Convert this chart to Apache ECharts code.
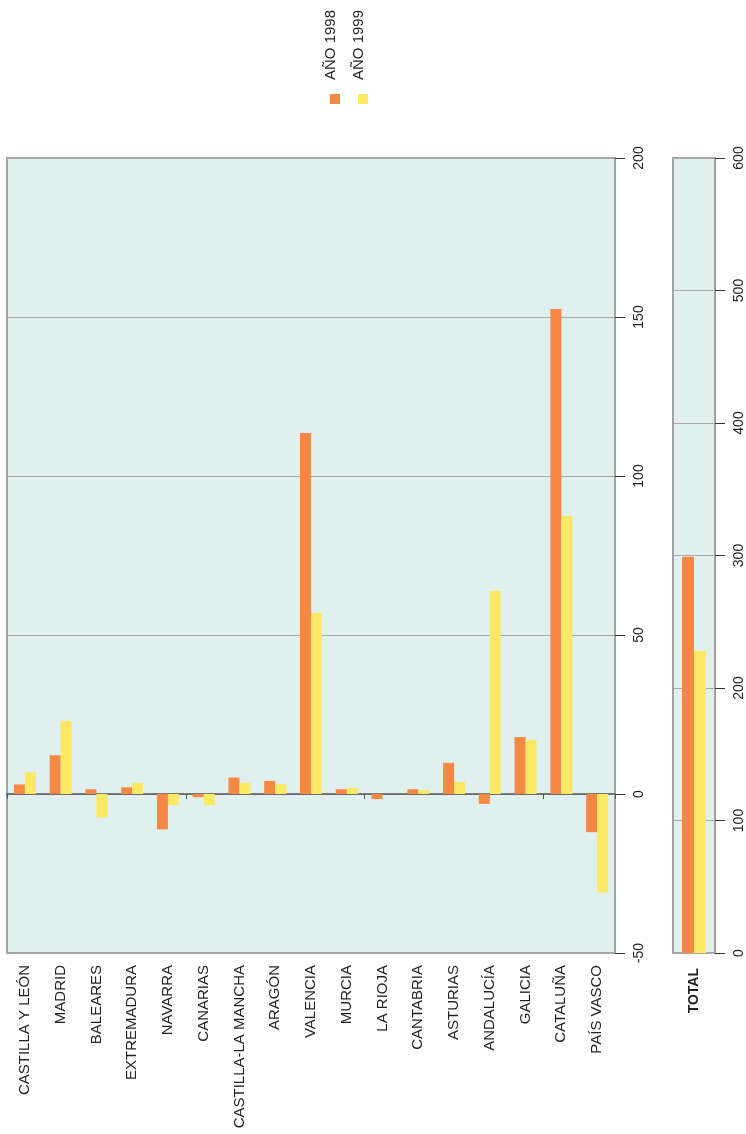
<!DOCTYPE html>
<html>
  <head>
    <meta charset="UTF-8" />
    <title>Año 1998 / Año 1999</title>
    <style>
      html, body { margin: 0; padding: 0; background: #fff; }
      #chart { width: 746px; height: 1134px; }
    </style>
    <script src="https://cdn.jsdelivr.net/npm/echarts@6/dist/echarts.min.js"></script>
  </head>
  <body>
    <div id="chart"></div>
    <script>
      const regiones = [
        "CASTILLA Y LEÓN", "MADRID", "BALEARES", "EXTREMADURA", "NAVARRA",
        "CANARIAS", "CASTILLA-LA MANCHA", "ARAGÓN", "VALENCIA", "MURCIA",
        "LA RIOJA", "CANTABRIA", "ASTURIAS", "ANDALUCÍA", "GALICIA",
        "CATALUÑA", "PAÍS VASCO"
      ];
      const ano1998 = [3, 12.2, 1.5, 2.1, -11.1, -1, 5.2, 4.1, 113.5, 1.5, -1.6, 1.5, 9.8, -3.1, 17.9, 152.5, -12];
      const ano1999 = [6.8, 23, -7.4, 3.5, -3.5, -3.5, 3.5, 3.1, 56.9, 1.9, 0, 1.3, 3.8, 63.8, 17, 87.4, -31];
      const totalCat = ["TOTAL"];
      const total1998 = [299];
      const total1999 = [228];
      const nombres = ["AÑO 1998", "AÑO 1999"];
      const colores = ["#f68843", "#fbe963"];

      const chart = echarts.init(document.getElementById("chart"));
      const font = "Liberation Sans";
      const txt = "#231f20";

      const gridBase = {
        show: true,
        backgroundColor: "#e0f0ef",
        borderColor: "#a3a3a3",
        borderWidth: 2,
        containLabel: false
      };

      const valueAxis = (grid, min, max, interval) => ({
        type: "value",
        gridIndex: grid,
        position: "right",
        min: min,
        max: max,
        interval: interval,
        axisLine: { show: false },
        axisTick: { show: true, length: 10, lineStyle: { color: "#333", width: 1 } },
        axisLabel: { rotate: 90, margin: 17, color: txt, fontFamily: font, fontSize: 14 },
        splitLine: { lineStyle: { color: "#a8a8a8", width: 1 } }
      });

      const option = {
        animation: false,
        legend: [0, 1].map((i) => ({
          data: [nombres[i]],
          left: 325 + i * 28,
          top: 89,
          itemWidth: 10,
          itemHeight: 10,
          icon: "rect",
          selectedMode: false,
          formatter: () => ""
        })),
        graphic: [0, 1].map((i) => ({
          type: "text",
          x: 331 + i * 28,
          y: 80,
          rotation: Math.PI / 2,
          style: {
            text: nombres[i],
            fill: txt,
            font: "15px " + font,
            align: "left",
            verticalAlign: "middle"
          }
        })),
        grid: [
          Object.assign({ left: 7, right: 131, top: 158, bottom: 181 }, gridBase),
          Object.assign({ left: 673, right: 31, top: 158, bottom: 181 }, gridBase)
        ],
        xAxis: [
          {
            type: "category",
            gridIndex: 0,
            position: "bottom",
            data: regiones,
            axisLine: { show: false, onZero: false },
            axisTick: { show: false },
            axisLabel: { rotate: 90, margin: 12, interval: 0, color: txt, fontFamily: font, fontSize: 15 }
          },
          {
            type: "category",
            gridIndex: 0,
            position: "bottom",
            data: regiones,
            axisLine: { show: true, onZero: true, lineStyle: { color: "#555", width: 1.5 } },
            axisTick: { show: true, length: 5, lineStyle: { color: "#555", width: 1 } },
            axisLabel: { show: false }
          },
          {
            type: "category",
            gridIndex: 1,
            position: "bottom",
            data: totalCat,
            axisLine: { show: false },
            axisTick: { show: false },
            axisLabel: { rotate: 90, margin: 15, color: txt, fontFamily: font, fontSize: 14, fontWeight: "bold" }
          }
        ],
        yAxis: [
          valueAxis(0, -50, 200, 50),
          valueAxis(1, 0, 600, 100)
        ],
        series: [
          { name: nombres[0], type: "bar", xAxisIndex: 0, yAxisIndex: 0, data: ano1998, barWidth: 11, barGap: "0%", itemStyle: { color: colores[0] } },
          { name: nombres[1], type: "bar", xAxisIndex: 0, yAxisIndex: 0, data: ano1999, barWidth: 11, barGap: "0%", itemStyle: { color: colores[1] } },
          { name: nombres[0], type: "bar", xAxisIndex: 2, yAxisIndex: 1, data: total1998, barWidth: 12, barGap: "0%", itemStyle: { color: colores[0] } },
          { name: nombres[1], type: "bar", xAxisIndex: 2, yAxisIndex: 1, data: total1999, barWidth: 12, barGap: "0%", itemStyle: { color: colores[1] } }
        ]
      };

      chart.setOption(option);
    </script>
  </body>
</html>
